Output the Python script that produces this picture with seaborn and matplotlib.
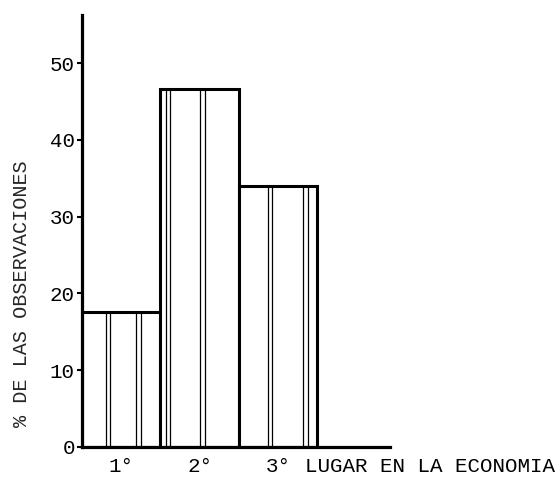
import numpy as np
import pandas as pd
import seaborn as sns
import matplotlib.pyplot as plt

# datos
lugares = ["1°", "2°", "3°"]
porcentajes = [17.6, 46.7, 34.0]

ylabel = "% DE LAS OBSERVACIONES"
xlabel = "LUGAR EN LA ECONOMIA"
yticks = [0, 10, 20, 30, 40, 50]

# rayas dobles dentro de cada barra (desplazamiento desde el centro)
rayas = [(-0.17, 0.22), (-0.40, 0.04), (-0.10, 0.35)]

sns.set_theme(style="white")
plt.rcParams['font.family'] = ['Liberation Mono', 'DejaVu Sans Mono']

df = pd.DataFrame({"lugar": lugares, "pct": porcentajes})

fig = plt.figure(figsize=(5.6, 4.78), dpi=100)
ax = fig.add_axes([0.1464, 0.0649, 0.55, 0.904])

g = sns.barplot(data=df, x="lugar", y="pct", color="white", saturation=1,
                width=1, edgecolor="black", linewidth=2.2, ax=ax)

# rayas dobles
for p, offs in zip(g.patches, rayas):
    cx = p.get_x() + p.get_width() / 2
    for o in offs:
        ax.vlines([cx + o - 0.028, cx + o + 0.028], 0, p.get_height(),
                  color="black", lw=0.9)

ax.set_xlim(-0.5, 3.43)
ax.set_ylim(0, 56.3)
ax.set_yticks(yticks)
ax.set_xlabel("")
ax.set_ylabel(ylabel, fontsize=14.5)
ax.yaxis.set_label_coords(-0.165, 0.356)

sns.despine(ax=ax)
for s in ["left", "bottom"]:
    ax.spines[s].set_linewidth(2.3)
    ax.spines[s].set_color("black")

ax.tick_params(axis="y", direction="out", length=3.6, width=1.5, pad=1.5,
               labelsize=15, left=True, colors="black")
ax.tick_params(axis="x", length=0, pad=7, labelsize=15, colors="black")

ax.annotate(xlabel, xy=(2, 0), xycoords=("data", "axes fraction"),
            xytext=(19.5, -7), textcoords="offset points",
            ha="left", va="top", fontsize=15, color="black")

fig.savefig("out.png", dpi=100)
